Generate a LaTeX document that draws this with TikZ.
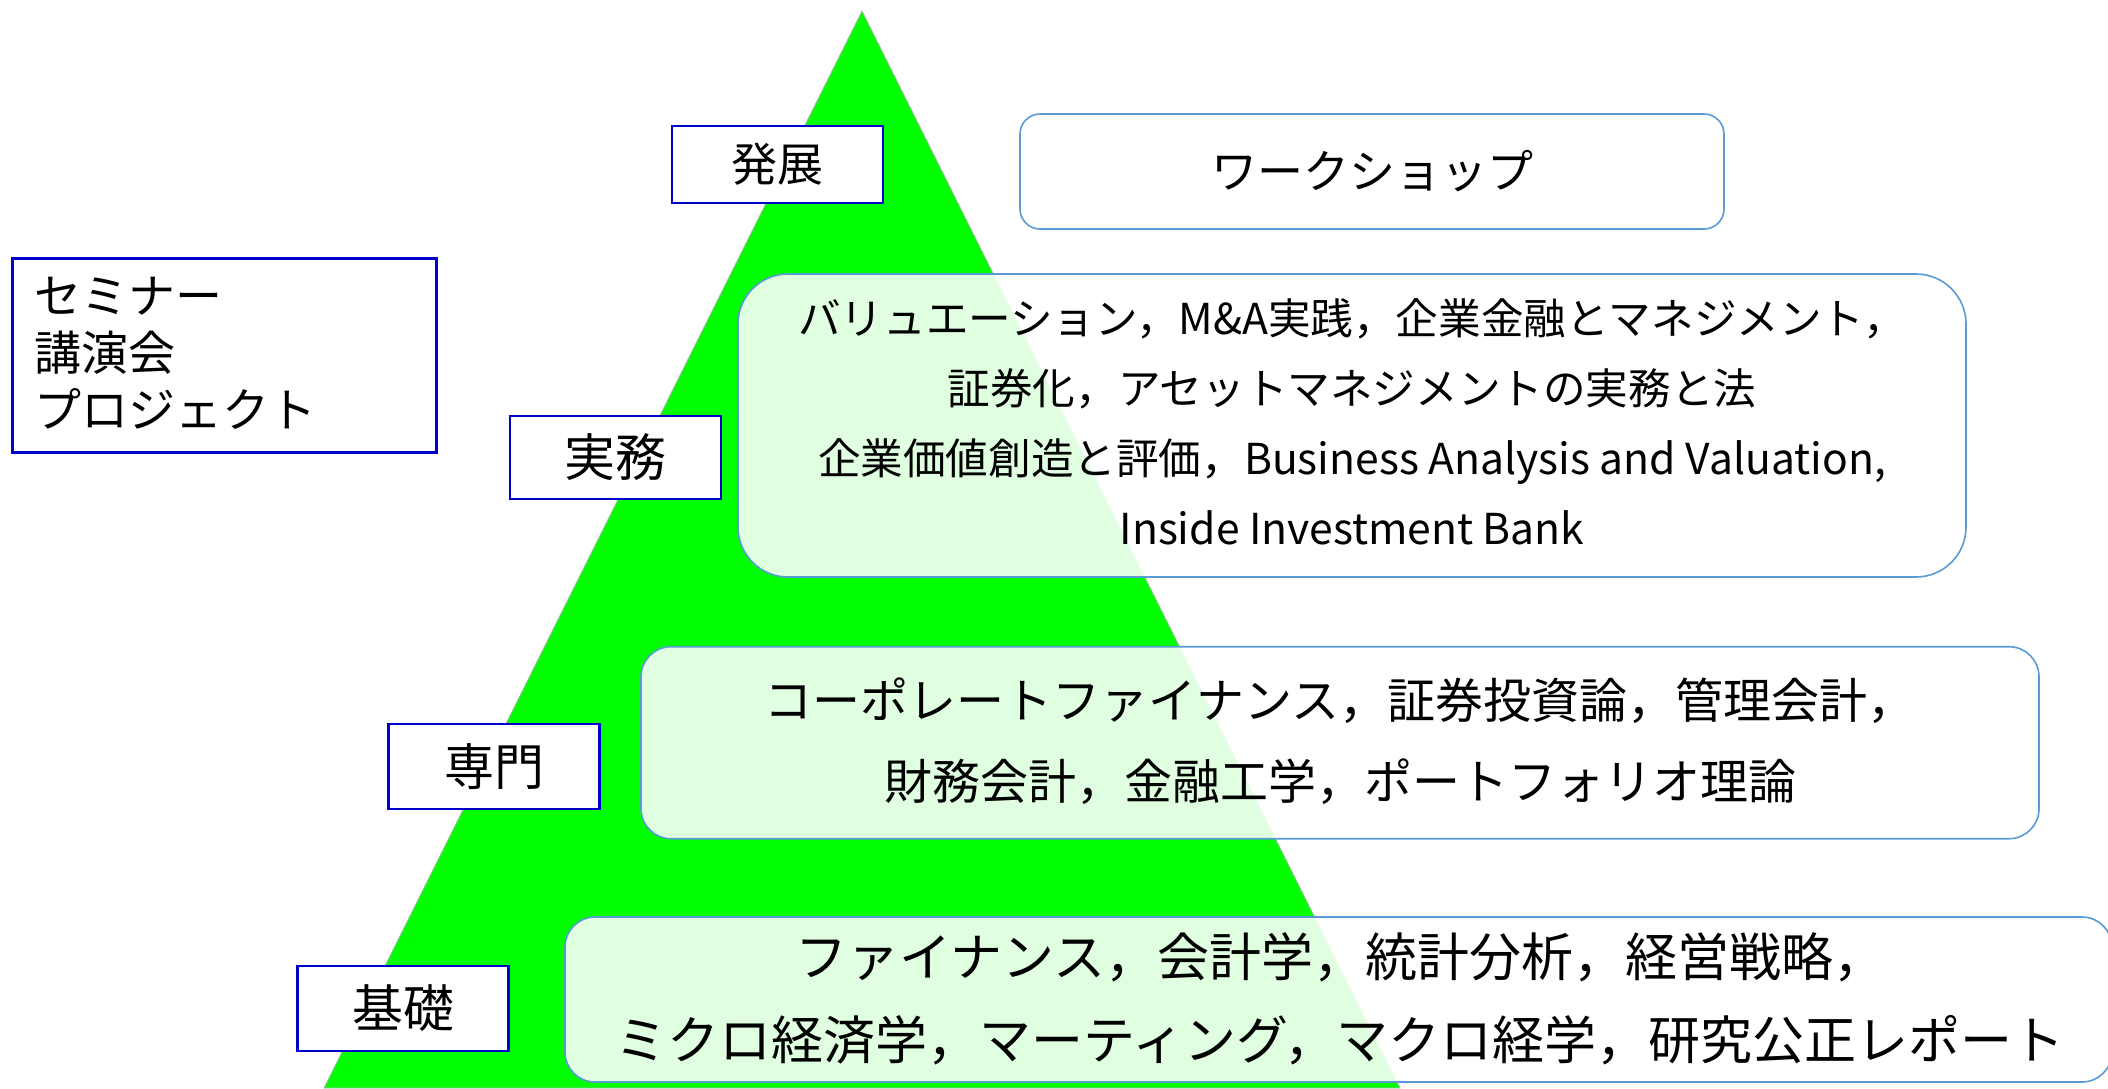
\documentclass[tikz,border=0pt]{standalone}
\usepackage{fontspec}
\setmainfont{Noto Sans CJK JP}
\definecolor{lblue}{RGB}{0,0,204}
\definecolor{rbord}{RGB}{91,155,213}
\definecolor{tgreen}{RGB}{0,255,0}
\begin{document}
\begin{tikzpicture}[x=0.5pt,y=-0.5pt,
  lbl/.style={draw=lblue, line width=1.1pt, fill=white, inner sep=0pt},
  cbox/.style={draw=rbord, line width=0.8pt, fill=white, fill opacity=0.88, text opacity=1, inner sep=0pt, align=center},
]
\useasboundingbox (0,0) rectangle (2108,1088);
\clip (0,0) rectangle (2108,1088);
% pyramid
\path[fill=tgreen, draw=gray!60, line width=0.4pt] (862,11) -- (1400,1088) -- (324,1088) -- cycle;
% top level
\node[lbl, minimum width=105.5pt, minimum height=38.5pt, font=\fontsize{23}{28}\selectfont] (hatten) at (777.5,164.5) {発展};
\node[cbox, rounded corners=10pt, fill opacity=1, minimum width=352pt, minimum height=57.5pt, font=\fontsize{23}{28}\selectfont] (ws) at (1372,171.5) {ワークショップ};
% left box
\node[lbl, minimum width=212pt, minimum height=97pt] (sem) at (224.5,355.5) {};
\node[anchor=west, align=left, inner sep=0pt, font=\fontsize{23.5}{28.5}\selectfont] (semtxt) at (34,353) {セミナー\\講演会\\プロジェクト};
% practice
\node[lbl, minimum width=105.7pt, minimum height=41.7pt, font=\fontsize{25.5}{30}\selectfont] (jitsumu) at (615.3,457.3) {実務};
\node[cbox, rounded corners=25pt, minimum width=614pt, minimum height=151.5pt] (jbox) at (1352,425.5) {};
\node[align=center, inner sep=0pt, font=\fontsize{21.3}{35}\selectfont] (jtxt) at (1352,422) {バリュエーション，M\&A実践，企業金融とマネジメント，\\証券化，アセットマネジメントの実務と法\\企業価値創造と評価，Business Analysis and Valuation,\\Inside Investment Bank};
% specialist
\node[lbl, minimum width=105.5pt, minimum height=42.5pt, font=\fontsize{25}{30}\selectfont] (senmon) at (494,766.5) {専門};
\node[cbox, rounded corners=15pt, minimum width=699pt, minimum height=96pt] (sbox) at (1340,742.7) {};
\node[align=center, inner sep=0pt, font=\fontsize{24}{40.5}\selectfont] (stxt) at (1340,741) {コーポレートファイナンス，証券投資論，管理会計，\\財務会計，金融工学，ポートフォリオ理論};
% basic
\node[lbl, minimum width=105.5pt, minimum height=42.5pt, font=\fontsize{25.5}{30}\selectfont] (kiso) at (403,1008.5) {基礎};
\node[cbox, rounded corners=15pt, minimum width=773.5pt, minimum height=82.5pt] (kbox) at (1338.5,999.5) {};
\node[align=center, inner sep=0pt, font=\fontsize{26}{41.5}\selectfont] (ktxt) at (1340,998.5) {ファイナンス，会計学，統計分析，経営戦略，\\ミクロ経済学，マーティング，マクロ経学，研究公正レポート};
\end{tikzpicture}
\end{document}
